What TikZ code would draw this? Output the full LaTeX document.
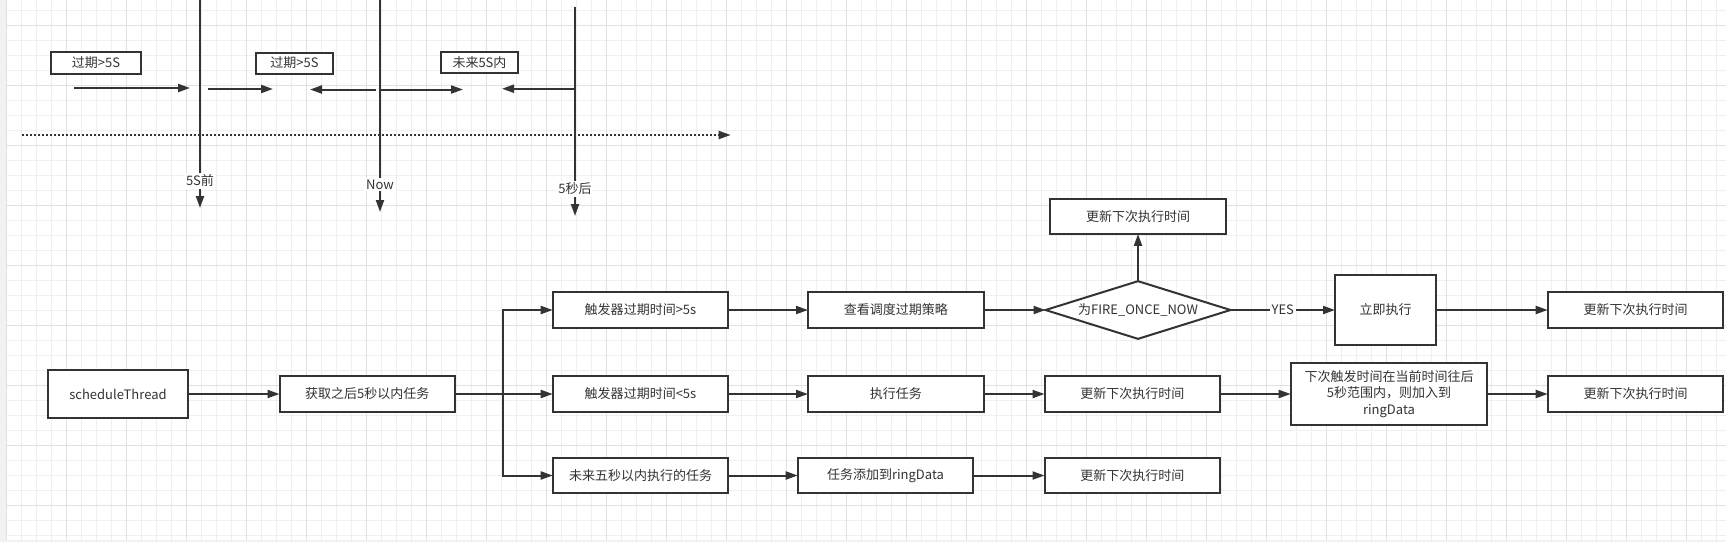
\documentclass[tikz,border=0pt]{standalone}
\usepackage{fontspec}
\setmainfont{Noto Sans CJK SC}
\usepackage{xcolor}
\usepackage{tikz}
\usetikzlibrary{shapes.geometric, arrows.meta}

\definecolor{ink}{HTML}{333333}
\definecolor{gridlo}{HTML}{EFEFEF}
\definecolor{gridhi}{HTML}{E1E1E1}
\definecolor{canvas}{HTML}{F2F2F2}

\begin{document}
\begin{tikzpicture}[
    x=0.02cm, y=-0.02cm,
    font=\fontsize{7.4pt}{9.4pt}\selectfont,
    box/.style={rectangle, draw=ink, line width=0.04cm, fill=white, text=ink, minimum width=3.512cm, minimum height=0.706cm, inner sep=1pt, outer sep=0pt, align=center},
    tag/.style={box, minimum width=1.552cm, minimum height=0.42cm},
    decide/.style={diamond, draw=ink, line width=0.04cm, fill=white, text=ink, shape aspect=3.2, inner sep=0pt, outer sep=0pt, minimum width=3.7cm, minimum height=1.154cm},
    arrow/.style={-{Triangle[length=0.24cm, width=0.16cm]}, line width=0.04cm, draw=ink},
    ticklabel/.style={fill=white, text=ink, inner sep=1pt, pos=0.87},
    minorline/.style={draw=gridlo, line width=0.02cm},
    majorline/.style={draw=gridhi, line width=0.02cm}
]

\useasboundingbox (0,0) rectangle (1726,542);
\fill[canvas] (0,0) rectangle (1726,542);
\fill[white] (6.7,0) rectangle (1726,540);
\foreach \gx in {0,...,114} \draw[minorline] (6.7+15*\gx,0) -- (6.7+15*\gx,540);
\foreach \gy in {0,...,35} \draw[minorline] (6.7,10.3+15*\gy) -- (1726,10.3+15*\gy);
\foreach \gx in {0,...,28} \draw[majorline] (6.7+60*\gx,0) -- (6.7+60*\gx,540);
\foreach \gy in {0,...,8} \draw[majorline] (6.7,25.3+60*\gy) -- (1726,25.3+60*\gy);

\node[tag, minimum width=1.812cm, minimum height=0.446cm] (tagold) at (96,62.9) {过期>5S};
\node[tag] (tagpast) at (294.5,63) {过期>5S};
\node[tag] (tagnext) at (479.5,62.9) {未来5S内};

\coordinate (agoT) at (200,0);
\coordinate (agoB) at (200,208);
\coordinate (nowT) at (380,0);
\coordinate (nowB) at (380,212);
\coordinate (laterT) at (575,6.7);
\coordinate (laterB) at (575,216);
\coordinate (axisL) at (22,135);
\coordinate (axisR) at (730.7,135);
\coordinate (oldS) at (74,88);
\coordinate (oldE) at (190,88);
\coordinate (pastS) at (208,89);
\coordinate (pastE) at (273,89);
\coordinate (backS) at (376,89.5);
\coordinate (backE) at (310,89.5);
\coordinate (aheadS) at (380,89.5);
\coordinate (aheadE) at (463,89.5);
\coordinate (nextS) at (575,88.7);
\coordinate (nextE) at (502,88.7);

\draw[arrow, dash pattern=on 0.04cm off 0.04cm] (axisL) -- (axisR);
\draw[arrow] (agoT) -- node[ticklabel] {5S前} (agoB);
\draw[arrow] (nowT) -- node[ticklabel] {Now} (nowB);
\draw[arrow] (laterT) -- node[ticklabel] {5秒后} (laterB);
\draw[arrow] (oldS) -- (oldE);
\draw[arrow] (pastS) -- (pastE);
\draw[arrow] (backS) -- (backE);
\draw[arrow] (aheadS) -- (aheadE);
\draw[arrow] (nextS) -- (nextE);

\node[box, minimum width=2.812cm, minimum height=0.972cm] (sched) at (118,394) {scheduleThread};
\node[box] (fetch) at (367.3,394) {获取之后5秒以内任务};
\node[box] (over) at (640.5,310) {触发器过期时间>5s};
\node[box] (under) at (640.5,394) {触发器过期时间<5s};
\node[box] (future) at (640.5,475.5) {未来五秒以内执行的任务};
\node[box] (policy) at (895.8,310) {查看调度过期策略};
\node[box] (runjob) at (895.8,394) {执行任务};
\node[box] (addring) at (885.5,475.5) {任务添加到ringData};
\node[decide] (check) at (1138,310) {为FIRE\_ONCE\_NOW};
\node[box] (updtop) at (1138,216.3) {更新下次执行时间};
\node[box, minimum width=2.02cm, minimum height=1.406cm] (fire) at (1385.5,310) {立即执行};
\node[box] (updfire) at (1635.5,310) {更新下次执行时间};
\node[box] (updrun) at (1132.3,394) {更新下次执行时间};
\node[box, minimum width=3.932cm, minimum height=1.246cm] (window) at (1389,394) {下次触发时间在当前时间往后\\5秒范围内，则加入到\\ringData};
\node[box] (updwin) at (1635.5,394) {更新下次执行时间};
\node[box] (updring) at (1132.3,475.5) {更新下次执行时间};

\draw[arrow] (sched) -- (fetch);
\draw[arrow] (fetch.east) -- (under.west);
\draw[arrow] (fetch.east) -- ++(48.4,0) |- (over.west);
\draw[arrow] (fetch.east) -- ++(48.4,0) |- (future.west);
\draw[arrow] (over) -- (policy);
\draw[arrow] (under) -- (runjob);
\draw[arrow] (future) -- (addring);
\draw[arrow] (policy) -- (check);
\draw[arrow] (check) -- (updtop);
\draw[arrow] (check) -- node[fill=white, text=ink, inner sep=1pt] {YES} (fire);
\draw[arrow] (fire) -- (updfire);
\draw[arrow] (runjob) -- (updrun);
\draw[arrow] (updrun) -- (window);
\draw[arrow] (window) -- (updwin);
\draw[arrow] (addring) -- (updring);

\end{tikzpicture}
\end{document}
